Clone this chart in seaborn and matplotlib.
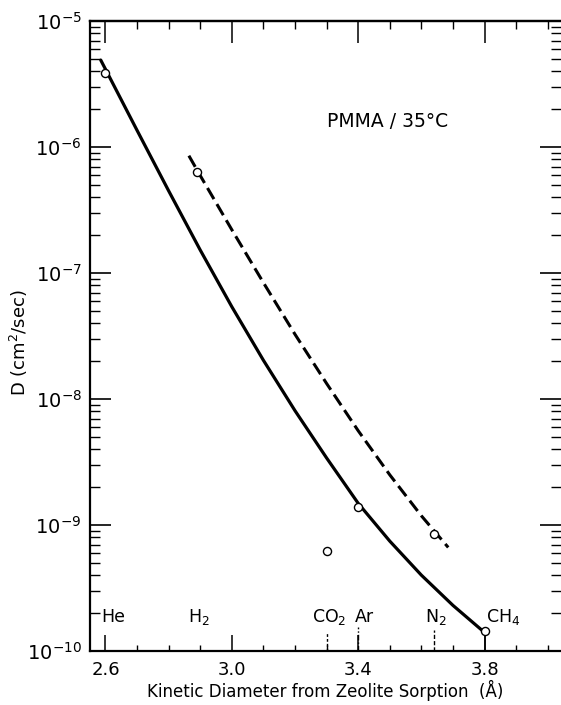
import numpy as np
import pandas as pd
import matplotlib
matplotlib.use("Agg")
import matplotlib.pyplot as plt
import matplotlib.ticker as mticker
import matplotlib.transforms as mtransforms
import seaborn as sns

# ---------------- data ----------------
gas_names = ["He", "H$_2$", "CO$_2$", "Ar", "N$_2$", "CH$_4$"]
gas_diam = [2.6, 2.89, 3.3, 3.4, 3.64, 3.8]          # kinetic diameter (Å)
gas_logD = [-5.41, -6.20, -9.21, -8.86, -9.07, -9.84]  # log10 D (cm2/sec)

# solid correlation curve
solid_x = [2.585, 2.70, 2.80, 2.90, 3.00, 3.10, 3.20, 3.30, 3.40, 3.50, 3.60, 3.70, 3.80]
solid_logD = [-5.31, -5.868, -6.348, -6.818, -7.268, -7.693, -8.093, -8.468,
              -8.828, -9.128, -9.398, -9.638, -9.853]

# dashed curve
dash_x = [2.864, 2.90, 3.00, 3.10, 3.20, 3.30, 3.40, 3.50, 3.60, 3.685]
dash_logD = [-6.069, -6.227, -6.657, -7.077, -7.487, -7.877, -8.252, -8.602, -8.927, -9.178]

x_major = [2.6, 3.0, 3.4, 3.8]
x_major_labels = ["2.6", "3.0", "3.4", "3.8"]
y_major_exp = [-10, -9, -8, -7, -6, -5]

# ---------------- styling ----------------
sns.set_style("ticks")
plt.rcParams["font.family"] = ["DejaVu Sans"]
plt.rcParams["mathtext.fontset"] = "dejavusans"
plt.rcParams["text.color"] = "black"
plt.rcParams["axes.labelcolor"] = "black"
plt.rcParams["xtick.color"] = "black"
plt.rcParams["ytick.color"] = "black"
plt.rcParams["axes.edgecolor"] = "black"

fig = plt.figure(figsize=(5.61, 7.05), dpi=100)
ax = fig.add_axes([90 / 561, 54 / 705, 471 / 561, 630 / 705])

pts = pd.DataFrame({"x": gas_diam, "D": [10.0 ** v for v in gas_logD]})
solid = pd.DataFrame({"x": solid_x, "D": [10.0 ** v for v in solid_logD]})
dashed = pd.DataFrame({"x": dash_x, "D": [10.0 ** v for v in dash_logD]})

ax.set_yscale("log")
sns.lineplot(data=solid, x="x", y="D", ax=ax, color="black", lw=2.3,
             sort=False, estimator=None, zorder=2)
sns.lineplot(data=dashed, x="x", y="D", ax=ax, color="black", lw=2.2,
             sort=False, estimator=None, zorder=2, linestyle=(0, (4.2, 1.9)))
sns.scatterplot(data=pts, x="x", y="D", ax=ax, marker="o", s=34,
                facecolor="white", edgecolor="black", linewidth=1.0, zorder=4)

ax.set_xlim(2.551, 4.042)
ax.set_ylim(1e-10, 1e-5)

# spines
for s in ["left", "bottom", "top"]:
    ax.spines[s].set_linewidth(1.6)
ax.spines["right"].set_visible(False)

# x ticks
ax.set_xticks(x_major)
ax.set_xticklabels(x_major_labels)
ax.xaxis.set_minor_locator(mticker.MultipleLocator(0.1))
ax.tick_params(axis="x", which="major", direction="in", length=11.5, width=1.1,
               labelsize=13, pad=7, top=False, bottom=True)
ax.tick_params(axis="x", which="minor", direction="in", length=4, width=1.0,
               top=False, bottom=True)

# y ticks
ax.set_yticks([10.0 ** e for e in y_major_exp])
ax.set_yticklabels(["$10^{%d}$" % e for e in y_major_exp])
ax.yaxis.set_minor_locator(mticker.LogLocator(base=10, subs=np.arange(2, 10), numticks=20))
ax.yaxis.set_minor_formatter(mticker.NullFormatter())
ax.tick_params(axis="y", which="major", direction="in", length=15, width=1.2,
               labelsize=14, pad=6, left=True, right=True)
ax.tick_params(axis="y", which="minor", direction="in", length=7, width=1.0,
               left=True, right=True)

# top ticks (longer)
sec = ax.secondary_xaxis("top")
sec.set_xticks(x_major)
sec.xaxis.set_minor_locator(mticker.MultipleLocator(0.1))
sec.tick_params(axis="x", which="major", direction="in", length=16, width=1.1, labeltop=False)
sec.tick_params(axis="x", which="minor", direction="in", length=6, width=1.0)
sec.spines["top"].set_linewidth(1.6)

# labels
ax.set_xlabel("Kinetic Diameter from Zeolite Sorption  (Å)", fontsize=12, labelpad=1)
ax.set_ylabel("D (cm$^2$/sec)", fontsize=13)
ax.yaxis.set_label_coords(-0.128, 0.49)

# gas labels and marker lines at the bottom
trans = mtransforms.blended_transform_factory(ax.transData, ax.transAxes)
label_dx = [-0.012, 0.005, 0.008, 0.02, 0.005, 0.005]
label_ha = ["left", "center", "center", "center", "center", "left"]
for name, xv, dx, ha in zip(gas_names, gas_diam, label_dx, label_ha):
    ax.text(xv + dx, 0.054, name, transform=trans, ha=ha, va="center", fontsize=12.5)

ax.axvline(gas_diam[2], ymin=0, ymax=0.028, color="black", lw=1.0, linestyle=(0, (2, 1.5)))
ax.axvline(gas_diam[3], ymin=0, ymax=0.038, color="black", lw=1.0, linestyle=(0, (4, 1.5, 1, 1.5)))
ax.axvline(gas_diam[4], ymin=0, ymax=0.033, color="black", lw=1.0, linestyle=(0, (3, 1.5)))
ax.axvline(gas_diam[5], ymin=0, ymax=0.027, color="black", lw=1.1)

ax.text(0.632, 0.840, "PMMA / 35°C", transform=ax.transAxes, ha="center",
        va="center", fontsize=13.5)

fig.savefig("out.png", dpi=100)
